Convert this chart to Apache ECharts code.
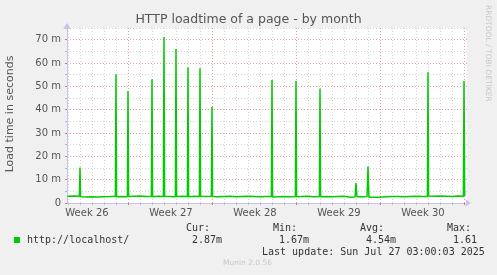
<!DOCTYPE html>
<html><head><meta charset="utf-8">
<script src="https://cdn.jsdelivr.net/npm/echarts@6/dist/echarts.min.js"></script>
<style>html,body{margin:0;padding:0;background:#f0f0f0}#c{width:497px;height:275px}</style>
</head><body><div id="c"></div><script>
const titleText = 'HTTP loadtime of a page - by month';
const yAxisTitle = 'Load time in seconds';
// x in days relative to the week-27 boundary
const dayPoints = [
  -5.05, -4.5, -4.05, -4, -3.95, -3.5, -3, -2.5, -2, -1.5, -1.05, -1, -0.95, -0.5,
  -0.05, 0, 0.05, 0.5, 1, 1.5, 1.95, 2, 2.05, 2.5, 2.95, 3, 3.05, 3.5, 3.95, 4, 4.05,
  4.5, 4.95, 5, 5.05, 5.5, 5.95, 6, 6.05, 6.5, 6.95, 7, 7.05, 7.5, 8, 8.5, 9, 9.5,
  10, 10.5, 11, 11.5, 11.95, 12, 12.05, 12.5, 13, 13.5, 13.95, 14, 14.05, 14.5, 15,
  15.5, 15.95, 16, 16.05, 16.5, 17, 17.5, 18, 18.5, 18.92, 19, 19.08, 19.5, 19.92, 20,
  20.08, 20.5, 21, 21.5, 22, 22.5, 23, 23.5, 24, 24.5, 24.95, 25, 25.05, 25.5, 26,
  26.5, 27, 27.5, 27.95, 28, 28.06
];
// load time in milliseconds (m)
const loadValues = [
  2.9, 3.0, 2.9, 15.2, 2.7, 2.6, 2.7, 2.6, 2.7, 2.8, 2.9, 55.2, 2.7, 2.8,
  2.7, 48.0, 2.8, 2.9, 3.0, 2.8, 2.9, 53.0, 2.7, 2.9, 2.8, 71.1, 2.9, 2.8, 2.7, 66.0, 2.8,
  2.9, 2.8, 58.2, 2.7, 2.9, 2.8, 57.8, 2.9, 2.8, 2.9, 41.2, 2.8, 2.7, 2.8, 2.9, 2.7, 2.8,
  2.9, 2.8, 2.7, 2.8, 2.8, 52.7, 2.6, 2.7, 2.8, 2.7, 2.8, 52.3, 2.7, 2.8, 2.9,
  2.7, 2.8, 49.0, 2.7, 2.8, 2.7, 2.8, 2.9, 2.5, 2.6, 8.5, 2.7, 2.7, 2.8, 15.6,
  2.5, 2.5, 2.5, 2.7, 2.8, 2.8, 2.7, 2.8, 2.9, 2.8, 2.8, 56.0, 3.0, 2.9, 3.0,
  2.9, 2.8, 3.0, 2.9, 52.3, 2.9
];
const dayTicks = [-5,-4,-3,-2,-1,0,1,2,3,4,5,6,7,8,9,10,11,12,13,14,15,16,17,18,19,20,21,22,23,24,25,26,27,28];
const weekBoundaries = [0, 7, 14, 21, 28];
const weekLabelDays = [-3.42, 3.58, 10.58, 17.58, 24.58];
const weekLabels = ['Week 26', 'Week 27', 'Week 28', 'Week 29', 'Week 30'];
const loadMinorTicks = [5, 15, 25, 35, 45, 55, 65, 75];
const loadTicks = [0, 10, 20, 30, 40, 50, 60, 70];
const loadTickLabels = ['0', '10 m', '20 m', '30 m', '40 m', '50 m', '60 m', '70 m'];
const legendName = 'http://localhost/';
const statNames = ['Cur:', 'Min:', 'Avg:', 'Max:'];
const statValues = ['2.87m', '1.67m', '4.54m', '1.61'];
const lastUpdate = 'Last update: Sun Jul 27 03:00:03 2025';
const versionText = 'Munin 2.0.56';
const watermark = 'RRDTOOL / TOBI OETIKER';

const X_MIN = -5.0833, X_MAX = 28.25, Y_MIN = 0, Y_MAX = 75;
const AXIS_COLOR = '#c4c4ee';
const MINOR = '#d4d4d4', MAJOR = '#e6a0a0';
const lineData = dayPoints.map((d, i) => [d, loadValues[i]]);

const chart = echarts.init(document.getElementById('c'), null, {renderer: 'canvas'});
const mono = 'DejaVu Sans Mono';
const statX = [186, 273, 360, 447];
const statVX = [192, 279, 366, 453];
const graphics = [
  {type: 'text', x: 248.5, y: 20, style: {text: titleText, font: '12.5px "DejaVu Sans"', fill: '#555', align: 'center', verticalAlign: 'middle'}},
  {type: 'text', x: 10, y: 114, rotation: Math.PI / 2, style: {text: yAxisTitle, font: '11px "DejaVu Sans"', fill: '#555', align: 'center', verticalAlign: 'middle'}},
  {type: 'text', x: 488, y: 5, rotation: -Math.PI / 2, style: {text: watermark, font: '7.5px "DejaVu Sans"', fill: '#c8c8c8', align: 'left', verticalAlign: 'middle'}},
  {type: 'rect', shape: {x: 14, y: 237, width: 6, height: 6}, style: {fill: '#00cc00'}},
  {type: 'text', x: 27, y: 240, style: {text: legendName, font: '10px "' + mono + '"', fill: '#333', align: 'left', verticalAlign: 'middle'}},
  {type: 'text', x: 262, y: 252, style: {text: lastUpdate, font: '10px "' + mono + '"', fill: '#333', align: 'left', verticalAlign: 'middle'}},
  {type: 'text', x: 223, y: 263, style: {text: versionText, font: '7.5px "DejaVu Sans"', fill: '#c8c8c8', align: 'left', verticalAlign: 'middle'}}
];
statNames.forEach((n, i) => {
  graphics.push({type: 'text', x: statX[i], y: 228, style: {text: n, font: '10px "' + mono + '"', fill: '#333', align: 'left', verticalAlign: 'middle'}});
  graphics.push({type: 'text', x: statVX[i], y: 240, style: {text: statValues[i], font: '10px "' + mono + '"', fill: '#333', align: 'left', verticalAlign: 'middle'}});
});

chart.setOption({
  animation: false,
  backgroundColor: '#f0f0f0',
  grid: {left: 67, top: 28, width: 400, height: 175, show: true, backgroundColor: '#ffffff', borderWidth: 0},
  xAxis: [
    {type: 'value', min: X_MIN, max: X_MAX, position: 'bottom',
     axisLine: {show: false, onZero: false}, axisLabel: {show: false},
     axisTick: {show: true, customValues: dayTicks, length: 2, lineStyle: {color: '#bbbbbb'}},
     splitLine: {show: true, lineStyle: {color: MINOR, type: [1, 2], width: 1}}},
    {type: 'value', min: X_MIN, max: X_MAX, position: 'bottom',
     axisLine: {show: true, onZero: false, symbol: ['none', 'arrow'], symbolSize: [6, 6], symbolOffset: [0, 4], lineStyle: {color: AXIS_COLOR}},
     axisTick: {show: true, customValues: weekBoundaries, length: 2, lineStyle: {color: '#e07070'}},
     axisLabel: {customValues: weekLabelDays, fontSize: 10, fontFamily: 'DejaVu Sans', color: '#555', margin: 5,
       formatter: v => { const i = weekLabelDays.findIndex(w => Math.abs(w - v) < 0.01); return i >= 0 ? weekLabels[i] : ''; }},
     splitLine: {show: true, lineStyle: {color: MAJOR, type: [1, 2], width: 1}}}
  ],
  yAxis: [
    {type: 'value', min: Y_MIN, max: Y_MAX, position: 'left',
     axisLine: {show: false, onZero: false}, axisLabel: {show: false},
     axisTick: {show: true, customValues: loadMinorTicks, length: 2, lineStyle: {color: '#bbbbbb'}},
     splitLine: {show: true, lineStyle: {color: MINOR, type: [1, 2], width: 1}}},
    {type: 'value', min: Y_MIN, max: Y_MAX, position: 'left',
     axisLine: {show: true, onZero: false, symbol: ['none', 'arrow'], symbolSize: [6, 6], symbolOffset: [0, 5], lineStyle: {color: AXIS_COLOR}},
     axisTick: {show: true, customValues: loadTicks, length: 2, lineStyle: {color: '#e07070'}},
     axisLabel: {customValues: loadTicks, fontSize: 10, fontFamily: 'DejaVu Sans', color: '#555', margin: 6,
       formatter: v => { const i = loadTicks.indexOf(v); return i >= 0 ? loadTickLabels[i] : ''; }},
     splitLine: {show: true, lineStyle: {color: MAJOR, type: [1, 2], width: 1}}}
  ],
  series: [{
    type: 'line', xAxisIndex: 1, yAxisIndex: 1, data: lineData, showSymbol: false,
    lineStyle: {color: '#00cc00', width: 1.5}, itemStyle: {color: '#00cc00'}, z: 5
  }],
  graphic: graphics
});
</script></body></html>
